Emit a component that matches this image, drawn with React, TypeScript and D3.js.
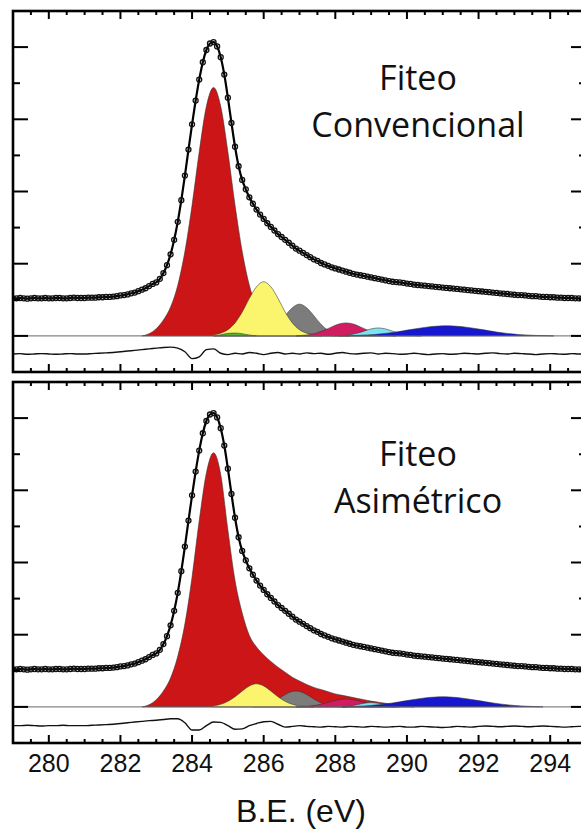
import React from "react";
import * as d3 from "d3";

const WIDTH = 581;
const HEIGHT = 830;

// Binding-energy axis
const E_MIN = 279;
const E_MAX = 295;
const xTickValues = [280, 282, 284, 286, 288, 290, 292, 294];
const yMajorTicks = [0, 1, 2, 3, 4];
const yMinorTicks = [0.5, 1.5, 2.5, 3.5];

// Measured C 1s spectrum (arbitrary units), 279.0 → 295.0 eV every 0.1 eV
const DATA_E0 = 279.0;
const DATA_STEP = 0.1;
const measured = [
  0.52, 0.52, 0.525, 0.52, 0.515, 0.52, 0.525, 0.52, 0.52, 0.525,
  0.52, 0.52, 0.525, 0.525, 0.52, 0.52, 0.525, 0.53, 0.525, 0.525,
  0.525, 0.53, 0.53, 0.53, 0.535, 0.535, 0.54, 0.54, 0.545, 0.55,
  0.56, 0.565, 0.575, 0.59, 0.6, 0.62, 0.64, 0.66, 0.69, 0.72,
  0.74, 0.79, 0.87, 0.98, 1.13, 1.33, 1.58, 1.88, 2.22, 2.58,
  2.93, 3.26, 3.55, 3.79, 3.96, 4.05, 4.07, 4.01, 3.86, 3.62,
  3.3, 2.95, 2.62, 2.35, 2.16, 2.03, 1.92, 1.83, 1.75, 1.68,
  1.62, 1.56, 1.51, 1.46, 1.41, 1.37, 1.33, 1.29, 1.25, 1.21,
  1.18, 1.15, 1.12, 1.09, 1.06, 1.04, 1.01, 0.99, 0.97, 0.95,
  0.935, 0.92, 0.905, 0.89, 0.875, 0.86, 0.85, 0.84, 0.83, 0.82,
  0.81, 0.8, 0.79, 0.78, 0.77, 0.76, 0.75, 0.745, 0.74, 0.735,
  0.725, 0.72, 0.71, 0.705, 0.7, 0.695, 0.69, 0.685, 0.68, 0.675,
  0.67, 0.665, 0.66, 0.655, 0.65, 0.645, 0.64, 0.635, 0.63, 0.625,
  0.62, 0.615, 0.61, 0.605, 0.6, 0.595, 0.59, 0.585, 0.58, 0.575,
  0.57, 0.565, 0.565, 0.56, 0.555, 0.55, 0.55, 0.545, 0.54, 0.54,
  0.535, 0.535, 0.53, 0.53, 0.525, 0.525, 0.525, 0.52, 0.52, 0.52,
  0.52,
];

// Fit residuals, 279.0 → 295.0 eV every 0.2 eV
const RESID_E0 = 279.0;
const RESID_STEP = 0.2;
const convResidual = [
  0, 0.005, -0.005, 0, 0.005, 0, -0.005, 0, 0.005, 0,
  0, 0.005, 0.01, 0.015, 0.02, 0.03, 0.04, 0.05, 0.06, 0.07,
  0.08, 0.09, 0.095, 0.08, 0.03, -0.065, -0.04, 0.06, 0.07, 0.01,
  -0.01, 0.01, 0, 0.02, 0.01, -0.01, 0.01, 0.02, 0, 0.01,
  0, 0.015, 0.005, 0.01, -0.005, 0.01, 0.02, 0.005, 0, 0.01,
  0.015, 0, 0.01, 0.005, -0.005, 0, 0.01, 0, -0.01, 0,
  0.005, -0.005, 0, 0.01, 0.005, 0, 0.01, 0.015, 0.005, 0,
  0.01, 0.005, 0, -0.01, 0, 0.005, 0, -0.005, 0.005, 0,
  0,
];
const asymResidual = [
  0, 0, 0.005, 0, -0.005, 0, 0, 0.005, 0, 0,
  0, 0.005, 0.01, 0.015, 0.02, 0.03, 0.04, 0.05, 0.06, 0.07,
  0.075, 0.085, 0.095, 0.095, 0.04, -0.06, -0.06, 0, 0.05, 0.045,
  0, -0.05, -0.045, 0, 0.03, 0.055, 0.06, 0.02, -0.02, -0.01,
  0, -0.01, -0.015, -0.02, -0.01, -0.015, -0.02, -0.01, -0.015, -0.02,
  -0.01, -0.015, -0.02, -0.015, -0.01, -0.02, -0.02, -0.01, -0.015, -0.02,
  -0.025, -0.02, -0.01, -0.015, -0.02, -0.01, -0.005, -0.01, -0.015, -0.01,
  -0.005, -0.01, -0.015, -0.01, -0.005, -0.01, -0.015, -0.02, -0.015, -0.01,
  -0.01,
];

// Fitted components, sampled every 0.2 eV from each start energy
const COMP_STEP = 0.2;

// Fiteo convencional
const convRedE0 = 282.6;
const convRed = [
  0, 0.03, 0.1, 0.22, 0.4, 0.7, 1.17, 1.81, 2.55, 3.18,
  3.44, 3.18, 2.55, 1.81, 1.17, 0.7, 0.41, 0.25, 0.16, 0.11,
  0.08, 0.06, 0.045, 0.035, 0.025, 0.015, 0.008, 0,
];
const convYellowE0 = 284.6;
const convYellow = [
  0.017, 0.038, 0.086, 0.18, 0.33, 0.52, 0.68, 0.75, 0.68, 0.52,
  0.33, 0.18, 0.086, 0.038, 0.017, 0,
];
const convGreenE0 = 284.6;
const convGreen = [0, 0.015, 0.035, 0.04, 0.03, 0.012, 0];
const convGrayE0 = 285.8;
const convGray = [
  0.01, 0.03, 0.075, 0.16, 0.28, 0.39, 0.44, 0.39, 0.28, 0.16,
  0.075, 0.03, 0.01, 0,
];
const convMagentaE0 = 286.9;
const convMagenta = [
  0, 0.008, 0.02, 0.045, 0.08, 0.125, 0.165, 0.18, 0.165, 0.125,
  0.08, 0.045, 0.02, 0.008, 0,
];
const convCyanE0 = 288.0;
const convCyan = [0, 0.005, 0.015, 0.036, 0.066, 0.097, 0.11, 0.097, 0.066, 0.036, 0.015, 0.005, 0];
const convBlueE0 = 288.1;
const convBlue = [
  0, 0.003, 0.005, 0.009, 0.014, 0.02, 0.029, 0.041, 0.054, 0.07,
  0.087, 0.103, 0.118, 0.13, 0.137, 0.14, 0.137, 0.13, 0.118, 0.103,
  0.087, 0.07, 0.054, 0.041, 0.029, 0.02, 0.014, 0.009, 0.005, 0.003,
  0,
];

// Fiteo asimétrico
const asymRedE0 = 282.6;
const asymRed = [
  0, 0.03, 0.1, 0.22, 0.4, 0.7, 1.15, 1.8, 2.58, 3.24,
  3.52, 3.22, 2.45, 1.75, 1.3, 0.99, 0.83, 0.72, 0.63, 0.55,
  0.48, 0.41, 0.36, 0.31, 0.27, 0.24, 0.21, 0.18, 0.16, 0.14,
  0.12, 0.1, 0.08, 0.065, 0.05, 0.035, 0.02, 0.01, 0,
];
const asymYellowE0 = 284.6;
const asymYellow = [
  0.015, 0.036, 0.077, 0.14, 0.22, 0.29, 0.32, 0.29, 0.22, 0.14,
  0.077, 0.036, 0.015, 0.005, 0,
];
const asymGrayE0 = 285.7;
const asymGray = [
  0.004, 0.014, 0.037, 0.081, 0.141, 0.197, 0.22, 0.197, 0.141, 0.081,
  0.037, 0.014, 0.004, 0,
];
const asymMagentaE0 = 286.9;
const asymMagenta = [
  0, 0.004, 0.012, 0.027, 0.049, 0.077, 0.1, 0.11, 0.1, 0.077,
  0.049, 0.027, 0.012, 0.004, 0,
];
const asymCyanE0 = 288.2;
const asymCyan = [0, 0.01, 0.03, 0.05, 0.06, 0.05, 0.03, 0.01, 0];
const asymBlueE0 = 288.2;
const asymBlue = [
  0, 0.004, 0.008, 0.013, 0.02, 0.029, 0.041, 0.055, 0.07, 0.087,
  0.103, 0.118, 0.13, 0.137, 0.14, 0.137, 0.13, 0.118, 0.103, 0.087,
  0.07, 0.055, 0.041, 0.029, 0.02, 0.013, 0.008, 0.004, 0,
];

const RED = "#cc1517";
const YELLOW = "#fbf56e";
const GREEN = "#57b233";
const GRAY = "#7c7c7c";
const MAGENTA = "#d11c62";
const CYAN = "#7ee2ef";
const BLUE = "#1717d0";

type Component = { e0: number; values: number[]; fill: string };

// back-to-front drawing order
const convComponents: Component[] = [
  { e0: convRedE0, values: convRed, fill: RED },
  { e0: convGrayE0, values: convGray, fill: GRAY },
  { e0: convYellowE0, values: convYellow, fill: YELLOW },
  { e0: convGreenE0, values: convGreen, fill: GREEN },
  { e0: convMagentaE0, values: convMagenta, fill: MAGENTA },
  { e0: convCyanE0, values: convCyan, fill: CYAN },
  { e0: convBlueE0, values: convBlue, fill: BLUE },
];
const asymComponents: Component[] = [
  { e0: asymRedE0, values: asymRed, fill: RED },
  { e0: asymGrayE0, values: asymGray, fill: GRAY },
  { e0: asymYellowE0, values: asymYellow, fill: YELLOW },
  { e0: asymMagentaE0, values: asymMagenta, fill: MAGENTA },
  { e0: asymCyanE0, values: asymCyan, fill: CYAN },
  { e0: asymBlueE0, values: asymBlue, fill: BLUE },
];

const PLOT_LEFT = 13;
const PLOT_RIGHT = 586;
const PANEL_H = 361;
const LABEL_FONT = "'Open Sans', 'Noto Sans', sans-serif";
const AXIS_FONT = "'Liberation Sans', Arial, sans-serif";

const toPairs = (e0: number, step: number, values: number[]): [number, number][] =>
  values.map((v, i) => [e0 + i * step, v]);

type PanelProps = {
  id: string;
  top: number;
  components: Component[];
  residual: number[];
  residualOffset: number;
  lines: string[];
  lineY: number[];
};

function Panel({ id, top, components, residual, residualOffset, lines, lineY }: PanelProps) {
  const x = d3.scaleLinear().domain([E_MIN, E_MAX]).range([PLOT_LEFT, PLOT_RIGHT]);
  const y = d3.scaleLinear().domain([-0.5, 4.5]).range([top + PANEL_H, top]);

  const area = d3
    .area<[number, number]>()
    .x((d) => x(d[0]))
    .y0(y(0))
    .y1((d) => y(d[1]))
    .curve(d3.curveMonotoneX);
  const line = d3
    .line<[number, number]>()
    .x((d) => x(d[0]))
    .y((d) => y(d[1]))
    .curve(d3.curveMonotoneX);

  const dataPts = toPairs(DATA_E0, DATA_STEP, measured);
  const residPts = toPairs(RESID_E0, RESID_STEP, residual).map(
    ([e, v]) => [e, v + residualOffset] as [number, number]
  );

  const minorX = d3.range(E_MIN + 0.5, E_MAX, 0.5).filter((v) => !xTickValues.includes(v));
  const bottom = top + PANEL_H;

  return (
    <g>
      <defs>
        <clipPath id={id}>
          <rect x={PLOT_LEFT} y={top} width={PLOT_RIGHT - PLOT_LEFT} height={PANEL_H} />
        </clipPath>
      </defs>
      <g clipPath={`url(#${id})`}>
        {components.map((c, i) => (
          <path
            key={i}
            d={area(toPairs(c.e0, COMP_STEP, c.values)) || ""}
            fill={c.fill}
            stroke="#333"
            strokeWidth={0.7}
            strokeOpacity={0.8}
          />
        ))}
        <line x1={PLOT_LEFT} x2={PLOT_RIGHT} y1={y(0)} y2={y(0)} stroke="#666" strokeWidth={1} />
        <path d={line(residPts) || ""} fill="none" stroke="#111" strokeWidth={1.4} />
        <path d={line(dataPts) || ""} fill="none" stroke="#000" strokeWidth={2.2} />
        {dataPts.map(([e, v], i) => (
          <circle key={i} cx={x(e)} cy={y(v)} r={2.5} fill="none" stroke="#111" strokeWidth={1.3} />
        ))}
        {lines.map((t, i) => (
          <text
            key={i}
            x={418}
            y={lineY[i]}
            textAnchor="middle"
            fontFamily={LABEL_FONT}
            fontSize={34}
            fill="#111"
          >
            {t}
          </text>
        ))}
      </g>
      {/* ticks */}
      <g stroke="#000" strokeWidth={2}>
        {xTickValues.map((v) => (
          <g key={`M${v}`}>
            <line x1={x(v)} x2={x(v)} y1={top} y2={top + 8} />
            <line x1={x(v)} x2={x(v)} y1={bottom} y2={bottom - 8} />
          </g>
        ))}
        {minorX.map((v) => (
          <g key={`m${v}`}>
            <line x1={x(v)} x2={x(v)} y1={top} y2={top + 4} />
            <line x1={x(v)} x2={x(v)} y1={bottom} y2={bottom - 4} />
          </g>
        ))}
        {yMajorTicks.map((v) => (
          <g key={`Y${v}`}>
            <line x1={PLOT_LEFT} x2={PLOT_LEFT + 15} y1={y(v)} y2={y(v)} />
            <line x1={PLOT_RIGHT} x2={PLOT_RIGHT - 15} y1={y(v)} y2={y(v)} />
          </g>
        ))}
        {yMinorTicks.map((v) => (
          <g key={`y${v}`}>
            <line x1={PLOT_LEFT} x2={PLOT_LEFT + 7} y1={y(v)} y2={y(v)} />
            <line x1={PLOT_RIGHT} x2={PLOT_RIGHT - 7} y1={y(v)} y2={y(v)} />
          </g>
        ))}
      </g>
      <rect
        x={PLOT_LEFT}
        y={top}
        width={PLOT_RIGHT - PLOT_LEFT}
        height={PANEL_H}
        fill="none"
        stroke="#000"
        strokeWidth={2.6}
      />
    </g>
  );
}

export default function App() {
  const x = d3.scaleLinear().domain([E_MIN, E_MAX]).range([PLOT_LEFT, PLOT_RIGHT]);
  return (
    <svg
      width={WIDTH}
      height={HEIGHT}
      viewBox={`0 0 ${WIDTH} ${HEIGHT}`}
      style={{ position: "absolute", left: 0, top: 0, background: "#fff" }}
    >
      <rect width={WIDTH} height={HEIGHT} fill="#fff" />
      <Panel
        id="clip-conv"
        top={11}
        components={convComponents}
        residual={convResidual}
        residualOffset={-0.25}
        lines={["Fiteo", "Convencional"]}
        lineY={[90, 137]}
      />
      <Panel
        id="clip-asym"
        top={382}
        components={asymComponents}
        residual={asymResidual}
        residualOffset={-0.26}
        lines={["Fiteo", "Asimétrico"]}
        lineY={[466, 513]}
      />
      {xTickValues.map((v) => (
        <text
          key={v}
          x={x(v)}
          y={772}
          textAnchor="middle"
          fontFamily={AXIS_FONT}
          fontSize={25}
          fill="#111"
        >
          {v}
        </text>
      ))}
      <text
        x={301}
        y={822}
        textAnchor="middle"
        fontFamily={AXIS_FONT}
        fontSize={32}
        fill="#111"
      >
        B.E. (eV)
      </text>
    </svg>
  );
}
